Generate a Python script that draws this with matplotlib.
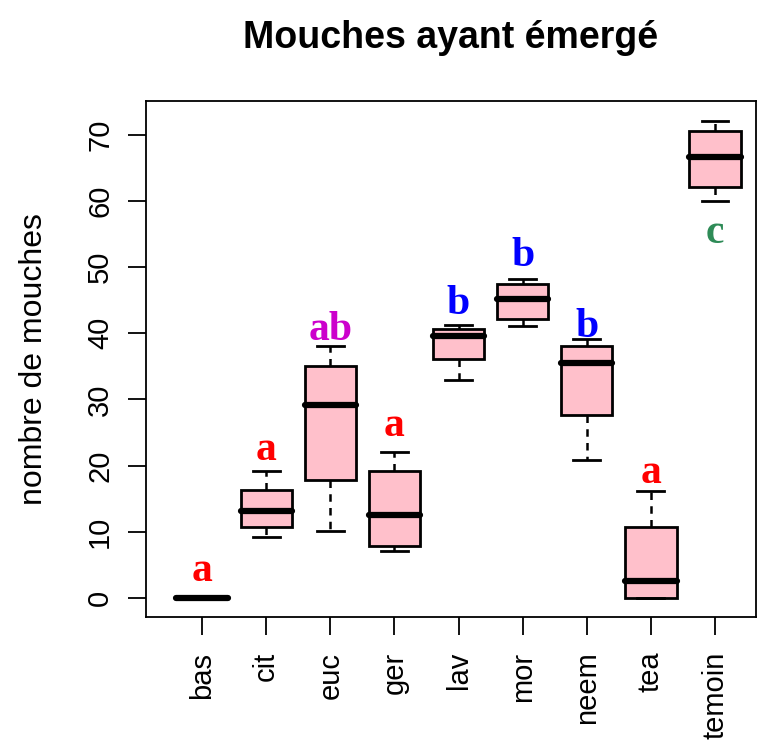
import matplotlib.pyplot as plt
import numpy as np

groups = ["bas", "cit", "euc", "ger", "lav", "mor", "neem", "tea", "temoin"]
whislo = [0, 9.2, 10.1, 7.1, 33.0, 41.1, 20.9, 0, 60.0]
q1 = [0, 10.7, 17.8, 7.9, 36.1, 42.2, 27.7, 0, 62.1]
med = [0, 13.2, 29.2, 12.5, 39.6, 45.2, 35.5, 2.6, 66.7]
q3 = [0, 16.3, 35.1, 19.2, 40.7, 47.5, 38.1, 10.7, 70.6]
whishi = [0, 19.2, 38.1, 22.1, 41.3, 48.2, 39.2, 16.2, 72.1]

letters = ["a", "a", "ab", "a", "b", "b", "b", "a", "c"]
letter_y = [4.1, 22.4, 40.5, 26.0, 44.5, 51.7, 41.0, 18.9, 55.2]
letter_col = ["red", "red", "#CC00CC", "red", "blue", "blue", "blue", "red", "#2E8B57"]

plt.rcParams['font.family'] = ['Liberation Sans', 'DejaVu Sans']

fig = plt.figure(figsize=(7.66, 7.46), dpi=100)
ax = fig.add_axes([0.1906, 0.1729, 0.987 - 0.1906, 0.8646 - 0.1729])

stats = []
for i, g in enumerate(groups):
    stats.append(dict(label=g, whislo=whislo[i], q1=q1[i], med=med[i],
                      q3=q3[i], whishi=whishi[i], fliers=[]))

pos = np.arange(1, len(groups) + 1)
ax.bxp(stats, positions=pos, widths=0.8, patch_artist=True, showfliers=False,
       boxprops=dict(facecolor="pink", edgecolor="black", linewidth=2),
       medianprops=dict(color="black", linewidth=4.5, solid_capstyle="round"),
       whiskerprops=dict(color="black", linewidth=1.8, linestyle=(0, (3, 2.5))),
       capprops=dict(color="black", linewidth=2), capwidths=0.42)

for i in range(len(groups)):
    ax.text(pos[i], letter_y[i], letters[i], color=letter_col[i], ha="center",
            va="center", fontsize=30, fontweight="bold",
            family=["Liberation Serif", "DejaVu Serif"])

ax.set_xlim(0.126, 9.64)
ax.set_ylim(-2.87, 75.1)
ax.set_yticks([0, 10, 20, 30, 40, 50, 60, 70])
ax.set_xticks(pos)
ax.set_xticklabels(groups, rotation=90, fontsize=21)
ax.tick_params(axis='y', labelsize=21, labelrotation=90, length=13, width=1.3, pad=10)
ax.tick_params(axis='x', length=13, width=1.3, pad=12)
for lab in ax.get_yticklabels():
    lab.set_va("center")
for s in ax.spines.values():
    s.set_linewidth(1.3)
ax.set_ylabel("nombre de mouches", fontsize=23, labelpad=27)
ax.set_title("Mouches ayant émergé", fontsize=27, fontweight="bold", pad=38)

fig.savefig("out.png", dpi=100)
